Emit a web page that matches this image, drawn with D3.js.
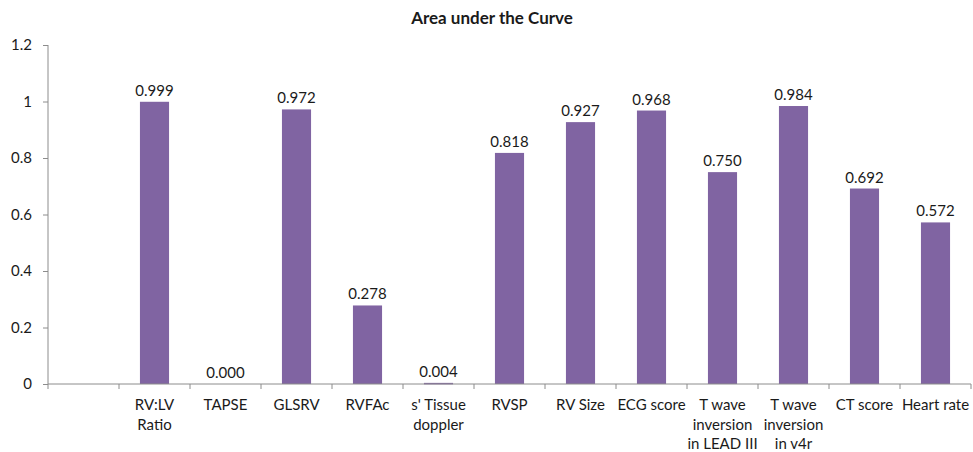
<!DOCTYPE html>
<html>
<head>
<meta charset="utf-8">
<script src="https://cdn.jsdelivr.net/npm/d3@7"></script>
<style>
  body { margin: 0; background: #fff; }
  text { font-family: Lato, "Open Sans", sans-serif; fill: #1a1a1a; }
</style>
</head>
<body>
<div class="chart"></div>
<script>
// chart data
var categories = ["", "RV:LV|Ratio", "TAPSE", "GLSRV", "RVFAc", "s' Tissue|doppler", "RVSP",
  "RV Size", "ECG score", "T wave|inversion|in LEAD III", "T wave|inversion|in v4r", "CT score", "Heart rate"];
var values = [null, 0.999, 0.000, 0.972, 0.278, 0.004, 0.818, 0.927, 0.968, 0.750, 0.984, 0.692, 0.572];
var yTicks = [0, 0.2, 0.4, 0.6, 0.8, 1, 1.2];
var title = "Area under the Curve";

WIDTH = 973
HEIGHT = 452
LEFT = 48
RIGHT = 971
TOP = 45
BOTTOM = 384
BAR_COLOR = "#8064a2"
AXIS_COLOR = "#8c8c8c"

var svg = d3.select(".chart").append("svg")
  .attr("width", WIDTH)
  .attr("height", HEIGHT);

var idx = categories.map(function(d, i) { return i; });

// bars sit in the middle ~41% of each category slot
var x = d3.scaleBand()
  .domain(idx)
  .range([LEFT, RIGHT])
  .paddingInner(0.59)
  .paddingOuter(0.295);

var xTicks = d3.scaleBand()
  .domain(idx)
  .range([LEFT, RIGHT]);

var y = d3.scaleLinear()
  .domain([0, 1.2])
  .range([BOTTOM, TOP]);

// title
svg.append("text")
  .attr("x", 492)
  .attr("y", 24)
  .attr("text-anchor", "middle")
  .style("font-size", "17px")
  .style("font-weight", "bold")
  .text(title);

// y axis
var yAxis = svg.append("g")
  .attr("transform", "translate(" + LEFT + ",0)")
  .call(d3.axisLeft(y).tickValues(yTicks).tickSize(5).tickPadding(11)
    .tickFormat(function(d) { return String(+d.toFixed(1)); }));
yAxis.selectAll("line, path").attr("stroke", AXIS_COLOR);
yAxis.select(".domain").attr("d", "M0," + TOP + "V" + BOTTOM);
yAxis.selectAll("text")
  .style("font-size", "15px")
  .style("font-family", "Lato, 'Open Sans', sans-serif")
  .attr("fill", "#1a1a1a");

// bars + value labels
values.forEach(function(v, i) {
  if (v === null) return;
  svg.append("rect")
    .attr("x", x(i))
    .attr("y", y(v))
    .attr("width", x.bandwidth())
    .attr("height", Math.max(y(0) - y(v), v > 0 ? 1.5 : 0))
    .attr("fill", BAR_COLOR);
  svg.append("text")
    .attr("x", x(i) + x.bandwidth() / 2)
    .attr("y", y(v) - 6)
    .attr("text-anchor", "middle")
    .style("font-size", "15px")
    .text(v.toFixed(3));
});

// x axis
var xAxis = svg.append("g")
  .attr("transform", "translate(0," + BOTTOM + ")");
xAxis.append("line")
  .attr("x1", LEFT).attr("x2", RIGHT)
  .attr("stroke", AXIS_COLOR);
xAxis.selectAll("line.tick")
  .data(idx.concat([categories.length]))
  .enter().append("line")
  .attr("class", "tick")
  .attr("x1", function(i) { return i < categories.length ? xTicks(i) : RIGHT; })
  .attr("x2", function(i) { return i < categories.length ? xTicks(i) : RIGHT; })
  .attr("y1", 0).attr("y2", 5)
  .attr("stroke", AXIS_COLOR);

categories.forEach(function(c, i) {
  if (!c) return;
  var t = xAxis.append("text")
    .attr("text-anchor", "middle")
    .attr("transform", "translate(" + (xTicks(i) + xTicks.bandwidth() / 2) + ",26)")
    .style("font-size", "15px");
  c.split("|").forEach(function(line, j) {
    t.append("tspan").attr("x", 0).attr("dy", j === 0 ? 0 : 19.5).text(line);
  });
});
</script>
</body>
</html>
